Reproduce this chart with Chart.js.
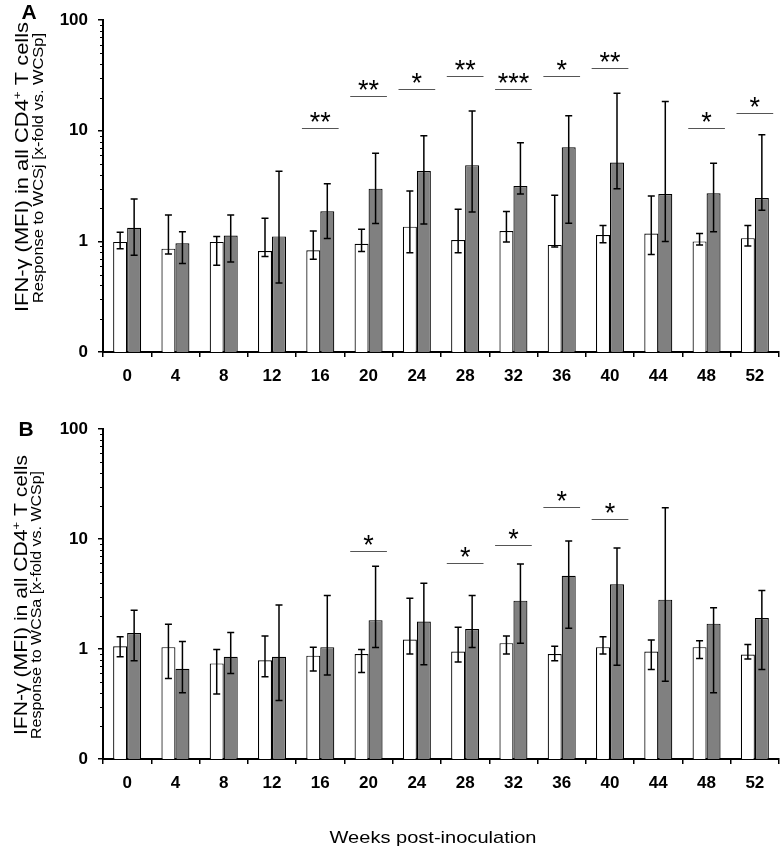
<!DOCTYPE html>
<html lang="en">
<head>
<meta charset="UTF-8">
<title>IFN-gamma CD4 T cells</title>
<script src="https://cdn.jsdelivr.net/npm/chart.js"></script>
<style>
    body { margin: 0; background: #fff; }
    .wrap { position: relative; width: 783px; height: 855px; }
    canvas { position: absolute; left: 0; }
</style>
</head>
<body>
<div class="wrap">
    <canvas id="chartA" width="783" height="395" style="top:0"></canvas>
    <canvas id="chartB" width="783" height="460" style="top:395px"></canvas>
</div>
<script>
const weeks = ['0', '4', '8', '12', '16', '20', '24', '28', '32', '36', '40', '44', '48', '52'];

// panel A  (WCSj vs WCSp)
const aWhite      = [0.99, 0.86, 0.99, 0.82, 0.83, 0.95, 1.36, 1.03, 1.24, 0.93, 1.14, 1.18, 1.00, 1.07];
const aWhiteUpper = [1.21, 1.73, 1.11, 1.62, 1.24, 1.29, 2.85, 1.95, 1.86, 2.61, 1.39, 2.57, 1.18, 1.39];
const aWhiteLower = [0.86, 0.77, 0.61, 0.73, 0.69, 0.81, 0.79, 0.79, 0.99, 0.89, 0.97, 0.76, 0.93, 0.91];
const aGray       = [1.33, 0.96, 1.13, 1.11, 1.87, 3.00, 4.33, 4.89, 3.17, 7.10, 5.17, 2.68, 2.72, 2.47];
const aGrayUpper  = [2.42, 1.22, 1.73, 4.30, 3.32, 6.28, 9.0, 15.1, 7.8, 13.7, 21.8, 18.4, 5.09, 9.2];
const aGrayLower  = [0.75, 0.63, 0.65, 0.42, 1.06, 1.45, 1.44, 1.84, 2.68, 1.46, 3.00, 1.00, 1.22, 1.91];
const aStars      = ['', '', '', '', '**', '**', '*', '**', '***', '*', '**', '', '*', '*'];
const aStarLevel  = [null, null, null, null, 10.5, 20.5, 24, 31, 24, 31, 37, null, 10.5, 14.6];

// panel B  (WCSa vs WCSp)
const bWhite      = [1.06, 1.04, 0.74, 0.79, 0.87, 0.90, 1.22, 0.95, 1.13, 0.90, 1.04, 0.95, 1.04, 0.89];
const bWhiteUpper = [1.29, 1.68, 0.99, 1.31, 1.04, 0.99, 2.90, 1.58, 1.31, 1.06, 1.29, 1.21, 1.19, 1.10];
const bWhiteLower = [0.85, 0.54, 0.39, 0.56, 0.63, 0.61, 0.90, 0.76, 0.90, 0.78, 0.90, 0.65, 0.82, 0.81];
const bGray       = [1.40, 0.66, 0.85, 0.85, 1.04, 1.83, 1.78, 1.52, 2.75, 4.64, 3.87, 2.81, 1.70, 1.91];
const bGrayUpper  = [2.25, 1.17, 1.41, 2.51, 3.07, 5.64, 3.95, 3.07, 5.93, 9.6, 8.3, 19.2, 2.37, 3.41];
const bGrayLower  = [0.78, 0.40, 0.60, 0.34, 0.58, 1.03, 0.72, 1.03, 1.13, 1.54, 0.71, 0.51, 0.40, 0.65];
const bStars      = ['', '', '', '', '', '*', '', '*', '*', '*', '*', '', '', ''];
const bStarLevel  = [null, null, null, null, null, 7.7, null, 6.05, 8.9, 19.4, 15.2, null, null, null];

const yTicks = [0.1, 1, 10, 100];
const FONT = '"Liberation Sans", Arial, sans-serif';

// rotated text squeezed/stretched to a given length; parts = [[text, size, raise]]
function vText(ctx, parts, cy, bx, len) {
    ctx.save();
    ctx.translate(bx, cy);
    ctx.rotate(-Math.PI / 2);
    let total = 0;
    const widths = parts.map(p => {
        ctx.font = p[1] + 'px ' + FONT;
        const w = ctx.measureText(p[0]).width;
        total += w;
        return w;
    });
    ctx.scale(len / total, 1);
    ctx.fillStyle = '#000';
    ctx.textBaseline = 'alphabetic';
    ctx.textAlign = 'left';
    let x = -total / 2;
    parts.forEach((p, i) => {
        ctx.font = p[1] + 'px ' + FONT;
        ctx.fillText(p[0], x, -p[2]);
        x += widths[i];
    });
    ctx.restore();
}

function makeChart(id, cfg) {
    const extras = {
        id: 'extras',
        afterDatasetsDraw(chart) {
            const ctx = chart.ctx;
            const x = chart.scales.x, y = chart.scales.y;
            const area = chart.chartArea;
            // error bars
            [[cfg.whiteUpper, cfg.whiteLower], [cfg.grayUpper, cfg.grayLower]].forEach((err, di) => {
                const meta = chart.getDatasetMeta(di);
                meta.data.forEach((bar, j) => {
                    const yt = y.getPixelForValue(err[0][j]);
                    const yb = y.getPixelForValue(err[1][j]);
                    ctx.save();
                    ctx.strokeStyle = '#000';
                    ctx.lineWidth = 1.5;
                    ctx.beginPath();
                    ctx.moveTo(bar.x, yt); ctx.lineTo(bar.x, yb);
                    ctx.moveTo(bar.x - 3.5, yt); ctx.lineTo(bar.x + 3.5, yt);
                    ctx.moveTo(bar.x - 3.5, yb); ctx.lineTo(bar.x + 3.5, yb);
                    ctx.stroke();
                    ctx.restore();
                });
            });
            // significance
            const half = 0.38 * (x.width / weeks.length);
            cfg.stars.forEach((s, j) => {
                if (!s) return;
                const cx = x.getPixelForValue(j);
                const ly = Math.round(y.getPixelForValue(cfg.starLevel[j])) + 0.5;
                ctx.save();
                ctx.strokeStyle = '#555';
                ctx.lineWidth = 1.2;
                ctx.beginPath();
                ctx.moveTo(cx - half, ly); ctx.lineTo(cx + half, ly);
                ctx.stroke();
                ctx.fillStyle = '#000';
                ctx.font = '27px ' + FONT;
                ctx.textAlign = 'center';
                ctx.textBaseline = 'alphabetic';
                ctx.fillText(s, cx, ly + 2);
                ctx.restore();
            });
            // minor log ticks
            ctx.save();
            ctx.strokeStyle = '#000';
            ctx.lineWidth = 1.2;
            ctx.beginPath();
            [0.1, 1, 10].forEach(d => {
                for (let k = 2; k <= 9; k++) {
                    const py = Math.round(y.getPixelForValue(d * k)) + 0.5;
                    ctx.moveTo(area.left - 3, py); ctx.lineTo(area.left, py);
                }
            });
            ctx.stroke();
            ctx.restore();
        },
        afterDraw(chart) {
            cfg.texts(chart.ctx);
        }
    };

    return new Chart(document.getElementById(id), {
        type: 'bar',
        data: {
            labels: weeks,
            datasets: [
                { data: cfg.white, backgroundColor: '#ffffff', borderColor: '#000', borderWidth: 1.2 },
                { data: cfg.gray, backgroundColor: '#808080', borderColor: '#000', borderWidth: 1.2 }
            ]
        },
        options: {
            responsive: false,
            animation: false,
            devicePixelRatio: 1,
            layout: { padding: { top: cfg.padTop, right: 4, left: 0, bottom: 0 } },
            datasets: { bar: { barPercentage: 1, categoryPercentage: 0.58 } },
            plugins: { legend: { display: false }, tooltip: { enabled: false } },
            scales: {
                x: {
                    z: 1,
                    afterFit: s => { s.height = cfg.xHeight; },
                    grid: { display: true, drawOnChartArea: false, offset: true, tickLength: 5, color: '#000', lineWidth: 1.5 },
                    border: { display: true, color: '#000', width: 2 },
                    ticks: { color: '#000', padding: 9, font: { family: FONT, size: 17, weight: 'bold' } }
                },
                y: {
                    type: 'logarithmic',
                    min: 0.1,
                    max: 100,
                    afterFit: s => { s.width = 103; },
                    afterBuildTicks: s => { s.ticks = yTicks.map(v => ({ value: v })); },
                    grid: { display: true, drawOnChartArea: false, tickLength: 5, color: '#000', lineWidth: 1.5 },
                    border: { display: true, color: '#000', width: 2 },
                    ticks: {
                        color: '#000', padding: 10,
                        font: { family: FONT, size: 17, weight: 'bold' },
                        callback: v => (v === 0.1 ? '0' : String(v))
                    }
                }
            }
        },
        plugins: [extras]
    });
}

makeChart('chartA', {
    white: aWhite, whiteUpper: aWhiteUpper, whiteLower: aWhiteLower,
    gray: aGray, grayUpper: aGrayUpper, grayLower: aGrayLower,
    stars: aStars, starLevel: aStarLevel,
    padTop: 12, xHeight: 43,
    texts(ctx) {
        ctx.save();
        ctx.fillStyle = '#000';
        ctx.font = 'bold 21px ' + FONT;
        ctx.textAlign = 'center';
        ctx.textBaseline = 'middle';
        ctx.fillText('A', 29, 13);
        ctx.restore();
        vText(ctx, [['IFN-\u03b3 (MFI) in all CD4', 18, 0], ['+', 11, 7], [' T cells', 18, 0]], 167, 28, 290);
        vText(ctx, [['Response to WCSj [x-fold vs. WCSp]', 15, 0]], 168, 43, 270);
    }
});

makeChart('chartB', {
    white: bWhite, whiteUpper: bWhiteUpper, whiteLower: bWhiteLower,
    gray: bGray, grayUpper: bGrayUpper, grayLower: bGrayLower,
    stars: bStars, starLevel: bStarLevel,
    padTop: 34, xHeight: 96,
    texts(ctx) {
        ctx.save();
        ctx.fillStyle = '#000';
        ctx.font = 'bold 21px ' + FONT;
        ctx.textAlign = 'center';
        ctx.textBaseline = 'middle';
        ctx.fillText('B', 26, 35);
        ctx.font = '17px ' + FONT;
        ctx.textBaseline = 'alphabetic';
        ctx.save();
        ctx.translate(433, 448);
        const w = ctx.measureText('Weeks post-inoculation').width;
        ctx.scale(207 / w, 1);
        ctx.fillText('Weeks post-inoculation', 0, 0);
        ctx.restore();
        ctx.restore();
        vText(ctx, [['IFN-\u03b3 (MFI) in all CD4', 18, 0], ['+', 11, 7], [' T cells', 18, 0]], 200, 27, 280);
        vText(ctx, [['Response to WCSa [x-fold vs. WCSp]', 15, 0]], 210, 41, 268);
    }
});
</script>
</body>
</html>
